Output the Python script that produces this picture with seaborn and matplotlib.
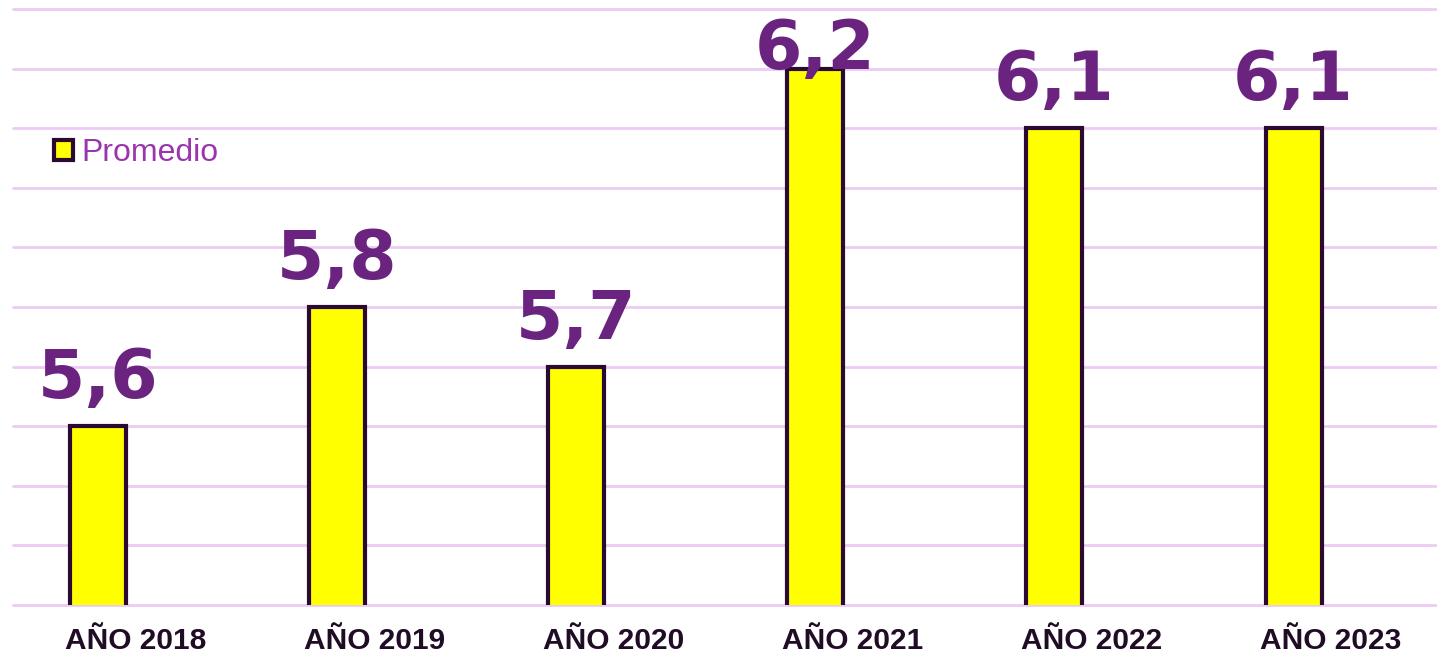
import numpy as np
import matplotlib
matplotlib.use("Agg")
import matplotlib.pyplot as plt
import pandas as pd
import seaborn as sns

years = ["AÑO 2018", "AÑO 2019", "AÑO 2020", "AÑO 2021", "AÑO 2022", "AÑO 2023"]
promedio = [5.6, 5.8, 5.7, 6.2, 6.1, 6.1]
value_labels = ["5,6", "5,8", "5,7", "6,2", "6,1", "6,1"]
y_ticks = [5.3, 5.4, 5.5, 5.6, 5.7, 5.8, 5.9, 6.0, 6.1, 6.2, 6.3]

BAR_COLOR = "#FFFF00"
EDGE_COLOR = "#2A0A30"
GRID_COLOR = "#EBCBF3"
LABEL_COLOR = "#6B2380"
LEGEND_TEXT = "#9A35AE"
TICK_COLOR = "#200C24"

sns.set_theme(style="white")
plt.rcParams["font.family"] = ["Liberation Sans", "DejaVu Sans"]

df = pd.DataFrame({"anio": years, "valor": promedio, "serie": "Promedio"})

fig = plt.figure(figsize=(14.37, 6.56), dpi=100)
ax = fig.add_axes([13 / 1437, 51 / 656, 1424 / 1437, 596 / 656])

sns.barplot(data=df, x="anio", y="valor", hue="serie", palette=[BAR_COLOR],
            saturation=1, width=0.234, edgecolor=EDGE_COLOR, linewidth=3,
            ax=ax, zorder=3)

ymin, ymax = 5.3, 6.3
ax.set_ylim(ymin, ymax)
ax.set_xlim(-0.356, 5.6)
ax.set_yticks(y_ticks)
ax.set_yticklabels([])
ax.grid(True, axis="y", color=GRID_COLOR, linewidth=2, zorder=0)
ax.grid(False, axis="x")
for gl in ax.get_ygridlines():
    gl.set_clip_on(False)
ax.set_axisbelow(True)
for s in ax.spines.values():
    s.set_visible(False)

# category labels sit a little right of the bars, as in the original
ax.set_xticks(np.arange(len(years)) + 0.155)
ax.set_xticklabels(years)
ax.tick_params(axis="y", length=0)
ax.tick_params(axis="x", length=0, pad=16)
ax.set_xlabel("")
ax.set_ylabel("")
for lbl in ax.get_xticklabels():
    lbl.set_fontsize(21.5)
    lbl.set_fontweight("bold")
    lbl.set_color(TICK_COLOR)

# value labels above bars, pushed down when they would leave the chart
for i, (v, t) in enumerate(zip(promedio, value_labels)):
    y_lab = min(v + 0.047, ymax - 0.1)
    ax.text(i, y_lab, t, ha="center", va="baseline", fontsize=49,
            fontweight="bold", color=LABEL_COLOR, family="DejaVu Sans", zorder=4)

leg = ax.legend(loc="center left", bbox_to_anchor=(0.029, 0.758), frameon=False,
                handlelength=0.6, handleheight=0.6, handletextpad=0.25,
                borderpad=0, borderaxespad=0, fontsize=23)
for txt in leg.get_texts():
    txt.set_color(LEGEND_TEXT)
for h in leg.legend_handles:
    h.set_edgecolor(EDGE_COLOR)
    h.set_linewidth(3)

fig.savefig("out.png", dpi=100)
